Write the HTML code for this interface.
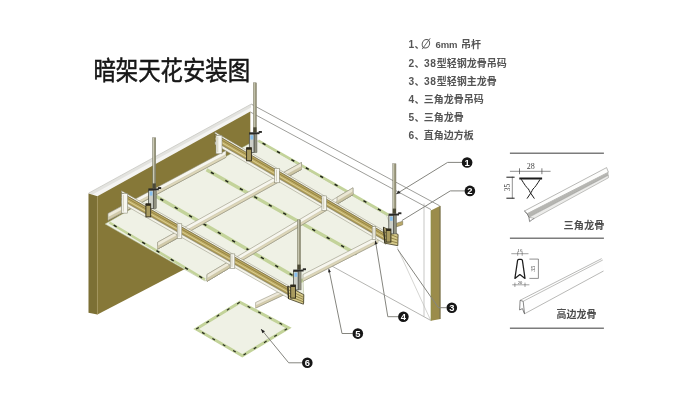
<!DOCTYPE html>
<html lang="zh-CN">
<head>
<meta charset="utf-8">
<title>暗架天花安装图</title>
<style>
html,body{margin:0;padding:0;background:#fff;}
body{width:680px;height:415px;overflow:hidden;font-family:"Liberation Sans","Noto Sans CJK SC",sans-serif;}
svg{display:block;}
svg text{font-family:"Liberation Sans","Noto Sans CJK SC",sans-serif;}
</style>
</head>
<body>
<svg width="680" height="415" viewBox="0 0 680 415">
<rect width="680" height="415" fill="#ffffff"/>
<defs><filter id="soft" x="0" y="0" width="100%" height="100%" filterUnits="userSpaceOnUse"><feGaussianBlur stdDeviation="0.6"/></filter></defs>
<g filter="url(#soft)">
<line x1="251.2" y1="104.1" x2="439.7" y2="205.8" stroke="#8c8c88" stroke-width="0.85" />
<line x1="250.3" y1="112.0" x2="431.0" y2="209.6" stroke="#8c8c88" stroke-width="0.85" />
<line x1="330.0" y1="265.0" x2="430.7" y2="320.4" stroke="#a2a29e" stroke-width="0.8" />
<line x1="424.0" y1="203.5" x2="424.0" y2="316.5" stroke="#b0b0ac" stroke-width="0.7" />
<line x1="397.0" y1="247.0" x2="430.7" y2="320.4" stroke="#b9b9b4" stroke-width="0.6" />
<polygon points="88.5,193.2 251.2,104.1 250.3,111.6 97.4,196.3" fill="#f4f4f2" stroke="none" stroke-width="0.6" />
<polygon points="88.5,193.2 251.2,104.1 250.9,107.4 92.5,194.6" fill="#e3e3df" stroke="none" stroke-width="0.6" />
<line x1="88.5" y1="193.2" x2="251.2" y2="104.1" stroke="#c4c4bf" stroke-width="0.7" />
<polygon points="97.4,196.3 250.3,111.6 250.3,235.0 97.4,314.5" fill="#867839" stroke="none" stroke-width="0.6" />
<polygon points="88.5,193.6 97.4,196.3 97.4,314.5 88.5,312.8" fill="#7c6f34" stroke="none" stroke-width="0.6" />
<line x1="97.4" y1="196.5" x2="97.4" y2="314.5" stroke="#a8975c" stroke-width="0.6" />
<polygon points="430.9,210.4 440.4,205.8 440.4,318.9 430.9,320.7" fill="#9b8c4b" stroke="none" stroke-width="0.6" />
<line x1="440.0" y1="206.0" x2="440.0" y2="319.0" stroke="#6e6a4e" stroke-width="0.9" />
<line x1="431.2" y1="210.4" x2="431.2" y2="320.6" stroke="#8f9048" stroke-width="0.8" />
<polygon points="105.0,224.0 150.0,198.0 256.0,140.0 386.5,215.3 397.0,242.0 376.0,240.5 303.0,278.0 304.0,303.0 245.0,269.0 233.0,266.0 205.0,281.0" fill="#eff1e5" stroke="#a9b48a" stroke-width="0.5" />
<line x1="109.4" y1="222.5" x2="205.0" y2="279.5" stroke="#c3d39a" stroke-width="2.6" />
<line x1="109.4" y1="222.5" x2="205.0" y2="279.5" stroke="#23261c" stroke-width="1.5" stroke-dasharray="3.4 13.2" stroke-dashoffset="-5"/>
<line x1="156.0" y1="196.3" x2="303.0" y2="281.5" stroke="#c3d39a" stroke-width="3.4" />
<line x1="156.0" y1="196.3" x2="303.0" y2="281.5" stroke="#23261c" stroke-width="1.5" stroke-dasharray="3.4 13.2" stroke-dashoffset="-5"/>
<line x1="206.5" y1="169.8" x2="356.5" y2="254.0" stroke="#c3d39a" stroke-width="3.4" />
<line x1="206.5" y1="169.8" x2="356.5" y2="254.0" stroke="#23261c" stroke-width="1.5" stroke-dasharray="3.4 13.2" stroke-dashoffset="-5"/>
<line x1="258.2" y1="140.6" x2="388.5" y2="215.0" stroke="#c3d39a" stroke-width="2.6" />
<line x1="258.2" y1="140.6" x2="388.5" y2="215.0" stroke="#23261c" stroke-width="1.5" stroke-dasharray="3.4 13.2" stroke-dashoffset="-5"/>
<polygon points="108.0,213.5 226.0,150.5 226.0,157.3 108.0,220.3" fill="#f7f6ee" stroke="#8d8c78" stroke-width="0.55" />
<polygon points="108.0,217.4 226.0,154.4 226.0,157.3 108.0,220.3" fill="#ddd6b8" stroke="none" stroke-width="0.6" />
<line x1="108.0" y1="220.3" x2="226.0" y2="157.3" stroke="#8d8c78" stroke-width="0.55" />
<line x1="108.0" y1="217.4" x2="226.0" y2="154.4" stroke="#b9b59a" stroke-width="0.4" />
<polygon points="157.6,242.3 301.5,162.5 301.5,169.3 157.6,249.1" fill="#f7f6ee" stroke="#8d8c78" stroke-width="0.55" />
<polygon points="157.6,246.2 301.5,166.4 301.5,169.3 157.6,249.1" fill="#ddd6b8" stroke="none" stroke-width="0.6" />
<line x1="157.6" y1="249.1" x2="301.5" y2="169.3" stroke="#8d8c78" stroke-width="0.55" />
<line x1="157.6" y1="246.2" x2="301.5" y2="166.4" stroke="#b9b59a" stroke-width="0.4" />
<polygon points="207.0,274.5 353.0,187.8 353.0,194.6 207.0,281.3" fill="#f7f6ee" stroke="#8d8c78" stroke-width="0.55" />
<polygon points="207.0,278.4 353.0,191.7 353.0,194.6 207.0,281.3" fill="#ddd6b8" stroke="none" stroke-width="0.6" />
<line x1="207.0" y1="281.3" x2="353.0" y2="194.6" stroke="#8d8c78" stroke-width="0.55" />
<line x1="207.0" y1="278.4" x2="353.0" y2="191.7" stroke="#b9b59a" stroke-width="0.4" />
<polygon points="303.0,274.5 378.0,236.0 378.0,242.8 303.0,281.3" fill="#f7f6ee" stroke="#8d8c78" stroke-width="0.55" />
<polygon points="303.0,278.4 378.0,239.9 378.0,242.8 303.0,281.3" fill="#ddd6b8" stroke="none" stroke-width="0.6" />
<line x1="303.0" y1="281.3" x2="378.0" y2="242.8" stroke="#8d8c78" stroke-width="0.55" />
<line x1="303.0" y1="278.4" x2="378.0" y2="239.9" stroke="#b9b59a" stroke-width="0.4" />
<polygon points="255.6,302.5 286.0,288.2 286.0,293.8 255.6,308.1" fill="#efeadb" stroke="#8d8c78" stroke-width="0.55" />
<polygon points="255.6,305.7 286.0,291.4 286.0,293.8 255.6,308.1" fill="#d8cfae" stroke="none" stroke-width="0.6" />
<line x1="255.6" y1="308.1" x2="286.0" y2="293.8" stroke="#8d8c78" stroke-width="0.55" />
<line x1="255.6" y1="305.7" x2="286.0" y2="291.4" stroke="#b9b59a" stroke-width="0.4" />
<polygon points="284.5,171.9 301.5,162.5 301.5,169.3 284.5,178.7" fill="#ebe7d4" stroke="#8d8c78" stroke-width="0.55" />
<polygon points="284.5,175.8 301.5,166.4 301.5,169.3 284.5,178.7" fill="#cdc6a4" stroke="none" stroke-width="0.6" />
<line x1="284.5" y1="178.7" x2="301.5" y2="169.3" stroke="#8d8c78" stroke-width="0.55" />
<line x1="284.5" y1="175.8" x2="301.5" y2="166.4" stroke="#b9b59a" stroke-width="0.4" />
<polygon points="337.0,197.3 353.0,187.8 353.0,194.6 337.0,204.1" fill="#ebe7d4" stroke="#8d8c78" stroke-width="0.55" />
<polygon points="337.0,201.2 353.0,191.7 353.0,194.6 337.0,204.1" fill="#cdc6a4" stroke="none" stroke-width="0.6" />
<line x1="337.0" y1="204.1" x2="353.0" y2="194.6" stroke="#8d8c78" stroke-width="0.55" />
<line x1="337.0" y1="201.2" x2="353.0" y2="191.7" stroke="#b9b59a" stroke-width="0.4" />
<polygon points="108.0,213.5 122.0,206.0 122.0,212.8 108.0,220.3" fill="#efebda" stroke="#8d8c78" stroke-width="0.55" />
<polygon points="108.0,217.4 122.0,209.9 122.0,212.8 108.0,220.3" fill="#d3cba9" stroke="none" stroke-width="0.6" />
<line x1="108.0" y1="220.3" x2="122.0" y2="212.8" stroke="#8d8c78" stroke-width="0.55" />
<line x1="108.0" y1="217.4" x2="122.0" y2="209.9" stroke="#b9b59a" stroke-width="0.4" />
<polygon points="157.6,242.3 177.0,231.5 177.0,238.3 157.6,249.1" fill="#efebda" stroke="#8d8c78" stroke-width="0.55" />
<polygon points="157.6,246.2 177.0,235.4 177.0,238.3 157.6,249.1" fill="#d3cba9" stroke="none" stroke-width="0.6" />
<line x1="157.6" y1="249.1" x2="177.0" y2="238.3" stroke="#8d8c78" stroke-width="0.55" />
<line x1="157.6" y1="246.2" x2="177.0" y2="235.4" stroke="#b9b59a" stroke-width="0.4" />
<polygon points="207.0,274.5 229.0,261.4 229.0,268.2 207.0,281.3" fill="#efebda" stroke="#8d8c78" stroke-width="0.55" />
<polygon points="207.0,278.4 229.0,265.3 229.0,268.2 207.0,281.3" fill="#d3cba9" stroke="none" stroke-width="0.6" />
<line x1="207.0" y1="281.3" x2="229.0" y2="268.2" stroke="#8d8c78" stroke-width="0.55" />
<line x1="207.0" y1="278.4" x2="229.0" y2="265.3" stroke="#b9b59a" stroke-width="0.4" />
<polygon points="121.5,190.8 290.0,286.6 290.0,288.6 121.5,192.8" fill="#f6f5ea" stroke="#8d8c78" stroke-width="0.5" />
<polygon points="121.5,192.8 290.0,288.6 290.0,296.0 121.5,200.2" fill="#bdaa62" stroke="#5f5836" stroke-width="0.6" />
<line x1="121.5" y1="195.0" x2="290.0" y2="290.8" stroke="#8f7f3f" stroke-width="0.9" />
<line x1="121.5" y1="197.4" x2="290.0" y2="293.2" stroke="#d9cd92" stroke-width="1.0" />
<line x1="121.5" y1="199.1" x2="290.0" y2="294.9" stroke="#97874a" stroke-width="0.6" />
<polygon points="121.5,200.2 290.0,296.0 290.0,299.0 121.5,203.2" fill="#f4f3e8" stroke="#8d8c78" stroke-width="0.5" />
<polygon points="215.0,132.0 386.0,232.0 386.0,234.0 215.0,134.0" fill="#f6f5ea" stroke="#8d8c78" stroke-width="0.5" />
<polygon points="215.0,134.0 386.0,234.0 386.0,241.4 215.0,141.4" fill="#bdaa62" stroke="#5f5836" stroke-width="0.6" />
<line x1="215.0" y1="136.2" x2="386.0" y2="236.2" stroke="#8f7f3f" stroke-width="0.9" />
<line x1="215.0" y1="138.6" x2="386.0" y2="238.6" stroke="#d9cd92" stroke-width="1.0" />
<line x1="215.0" y1="140.3" x2="386.0" y2="240.3" stroke="#97874a" stroke-width="0.6" />
<polygon points="215.0,141.4 386.0,241.4 386.0,244.4 215.0,144.4" fill="#f4f3e8" stroke="#8d8c78" stroke-width="0.5" />
<rect x="121.6" y="193.6" width="6.0" height="19.5" fill="#f7f7f1" stroke="#85846f" stroke-width="0.55"/>
<rect x="122.8" y="195.1" width="1.1" height="16.5" fill="#d5d3bf"/>
<rect x="177.2" y="223.8" width="4.6" height="14.5" fill="#f7f7f1" stroke="#85846f" stroke-width="0.55"/>
<rect x="178.4" y="225.3" width="1.1" height="11.5" fill="#d5d3bf"/>
<rect x="230.2" y="253.9" width="4.6" height="14.5" fill="#f7f7f1" stroke="#85846f" stroke-width="0.55"/>
<rect x="231.4" y="255.4" width="1.1" height="11.5" fill="#d5d3bf"/>
<rect x="216.0" y="135.3" width="6.0" height="18.5" fill="#f7f7f1" stroke="#85846f" stroke-width="0.55"/>
<rect x="217.2" y="136.8" width="1.1" height="15.5" fill="#d5d3bf"/>
<rect x="274.7" y="168.3" width="4.6" height="14.5" fill="#f7f7f1" stroke="#85846f" stroke-width="0.55"/>
<rect x="275.9" y="169.8" width="1.1" height="11.5" fill="#d5d3bf"/>
<rect x="321.9" y="195.9" width="4.6" height="14.5" fill="#f7f7f1" stroke="#85846f" stroke-width="0.55"/>
<rect x="323.1" y="197.4" width="1.1" height="11.5" fill="#d5d3bf"/>
<rect x="372.2" y="226.5" width="3.6" height="13" fill="#f7f7f1" stroke="#85846f" stroke-width="0.55"/>
<rect x="373.4" y="228.0" width="1.1" height="10" fill="#d5d3bf"/>
<polygon points="287.9,286.1 303.8,294.7 303.4,304.2 288.5,298.7" fill="#d6ca8b" stroke="#3f3a26" stroke-width="0.8" />
<line x1="288.1" y1="289.6" x2="303.7" y2="297.4" stroke="#8b7d42" stroke-width="0.9" />
<line x1="288.2" y1="292.7" x2="303.6" y2="299.6" stroke="#8b7d42" stroke-width="0.9" />
<line x1="288.4" y1="295.7" x2="303.5" y2="301.9" stroke="#8b7d42" stroke-width="0.9" />
<line x1="287.9" y1="286.1" x2="288.5" y2="298.7" stroke="#2f2b1c" stroke-width="1.1" />
<polygon points="383.5,227.2 398.1,234.5 397.8,245.7 384.9,243.2" fill="#d6ca8b" stroke="#3f3a26" stroke-width="0.8" />
<line x1="383.9" y1="231.7" x2="398.0" y2="237.6" stroke="#8b7d42" stroke-width="0.9" />
<line x1="384.2" y1="235.5" x2="397.9" y2="240.3" stroke="#8b7d42" stroke-width="0.9" />
<line x1="384.6" y1="239.4" x2="397.9" y2="243.0" stroke="#8b7d42" stroke-width="0.9" />
<line x1="383.5" y1="227.2" x2="384.9" y2="243.2" stroke="#2f2b1c" stroke-width="1.1" />
<rect x="152.6" y="137.8" width="3.2" height="50.6" fill="#9a987e" stroke="#6d6c58" stroke-width="0.4"/>
<rect x="153.1" y="137.8" width="0.8" height="50.6" fill="#d8d7c4"/>
<rect x="152.6" y="183.4" width="3.2" height="5" fill="#4c4a36"/>
<rect x="153.3" y="190.2" width="3.0" height="18.5" fill="#8f907f" stroke="#55564b" stroke-width="0.4"/>
<rect x="148.6" y="190.2" width="4.7" height="18.5" fill="#cdd0c8" stroke="#3e403a" stroke-width="0.7"/>
<rect x="149.7" y="191.4" width="2.8" height="4.2" fill="#86bfee"/>
<rect x="148.4" y="188.4" width="10.4" height="1.9" fill="#2c2c28"/>
<rect x="158.0" y="187.1" width="3.2" height="1.9" fill="#2c2c28"/>
<rect x="145.9" y="203.9" width="4.8" height="13" fill="#a99b5e" stroke="#2f2b1c" stroke-width="0.9"/>
<rect x="145.9" y="203.6" width="4.8" height="2.2" fill="#2f2b1c"/>
<rect x="253.3" y="82.8" width="3.2" height="49.5" fill="#9a987e" stroke="#6d6c58" stroke-width="0.4"/>
<rect x="253.8" y="82.8" width="0.8" height="49.5" fill="#d8d7c4"/>
<rect x="253.3" y="127.3" width="3.2" height="5" fill="#4c4a36"/>
<rect x="254.0" y="134.1" width="3.0" height="18.5" fill="#8f907f" stroke="#55564b" stroke-width="0.4"/>
<rect x="249.3" y="134.1" width="4.7" height="18.5" fill="#cdd0c8" stroke="#3e403a" stroke-width="0.7"/>
<rect x="250.4" y="135.3" width="2.8" height="4.2" fill="#86bfee"/>
<rect x="249.1" y="132.3" width="10.4" height="1.9" fill="#2c2c28"/>
<rect x="258.7" y="131.0" width="3.2" height="1.9" fill="#2c2c28"/>
<rect x="246.6" y="147.8" width="4.8" height="13" fill="#a99b5e" stroke="#2f2b1c" stroke-width="0.9"/>
<rect x="246.6" y="147.5" width="4.8" height="2.2" fill="#2f2b1c"/>
<rect x="392.8" y="163.8" width="3.2" height="49.8" fill="#9a987e" stroke="#6d6c58" stroke-width="0.4"/>
<rect x="393.3" y="163.8" width="0.8" height="49.8" fill="#d8d7c4"/>
<rect x="392.8" y="208.6" width="3.2" height="5" fill="#4c4a36"/>
<polygon points="396.0,223.4 402.7,221.2 402.7,224.8 396.0,227.0" fill="#b9a86a" stroke="#6b6445" stroke-width="0.5" />
<rect x="393.5" y="215.4" width="3.0" height="18.5" fill="#8f907f" stroke="#55564b" stroke-width="0.4"/>
<rect x="388.8" y="215.4" width="4.7" height="18.5" fill="#cdd0c8" stroke="#3e403a" stroke-width="0.7"/>
<rect x="389.9" y="216.6" width="2.8" height="4.2" fill="#86bfee"/>
<rect x="388.6" y="213.6" width="10.4" height="1.9" fill="#2c2c28"/>
<rect x="398.2" y="212.3" width="3.2" height="1.9" fill="#2c2c28"/>
<rect x="386.1" y="229.1" width="4.8" height="13" fill="#a99b5e" stroke="#2f2b1c" stroke-width="0.9"/>
<rect x="386.1" y="228.8" width="4.8" height="2.2" fill="#2f2b1c"/>
<rect x="297.4" y="219.9" width="3.2" height="49.7" fill="#9a987e" stroke="#6d6c58" stroke-width="0.4"/>
<rect x="297.9" y="219.9" width="0.8" height="49.7" fill="#d8d7c4"/>
<rect x="297.4" y="264.6" width="3.2" height="5" fill="#4c4a36"/>
<rect x="298.1" y="271.4" width="3.0" height="18.5" fill="#8f907f" stroke="#55564b" stroke-width="0.4"/>
<rect x="293.4" y="271.4" width="4.7" height="18.5" fill="#cdd0c8" stroke="#3e403a" stroke-width="0.7"/>
<rect x="294.5" y="272.6" width="2.8" height="4.2" fill="#86bfee"/>
<rect x="293.2" y="269.6" width="10.4" height="1.9" fill="#2c2c28"/>
<rect x="302.8" y="268.3" width="3.2" height="1.9" fill="#2c2c28"/>
<rect x="290.7" y="285.1" width="4.8" height="13" fill="#a99b5e" stroke="#2f2b1c" stroke-width="0.9"/>
<rect x="290.7" y="284.8" width="4.8" height="2.2" fill="#2f2b1c"/>
<polygon points="196.2,329.0 239.9,302.2 288.6,327.8 242.3,355.8" fill="#eff1e5" stroke="none" stroke-width="0.6" />
<polygon points="196.2,329.0 239.9,302.2 288.6,327.8 242.3,355.8" fill="none" stroke="#c3d39a" stroke-width="3"/>
<polygon points="196.2,329.0 239.9,302.2 288.6,327.8 242.3,355.8" fill="none" stroke="#2a2e22" stroke-width="1.2" stroke-dasharray="3 9"/>
<polyline points="462.0,162.4 447.6,162.4 396.1,194.1" fill="none" stroke="#85857f" stroke-width="1.0" />
<polygon points="396.1,194.1 398.8,190.5 400.6,193.3" fill="#222" stroke="none" stroke-width="0.6" />
<polyline points="465.0,190.9 450.3,190.9 401.8,220.6" fill="none" stroke="#85857f" stroke-width="1.0" />
<polyline points="446.5,307.7 438.4,307.7 397.7,249.4" fill="none" stroke="#85857f" stroke-width="1.0" />
<polyline points="398.0,316.7 387.8,316.7 375.4,240.6" fill="none" stroke="#85857f" stroke-width="1.0" />
<polygon points="375.4,240.6 377.4,243.9 374.6,244.4" fill="#222" stroke="none" stroke-width="0.6" />
<polyline points="352.5,333.5 342.0,333.5 328.8,268.8" fill="none" stroke="#85857f" stroke-width="1.0" />
<polygon points="328.8,268.8 330.9,272.0 328.1,272.6" fill="#222" stroke="none" stroke-width="0.6" />
<polyline points="302.0,362.8 288.7,362.8 261.0,329.0" fill="none" stroke="#85857f" stroke-width="1.0" />
<polygon points="261.0,329.0 265.0,331.2 262.4,333.3" fill="#222" stroke="none" stroke-width="0.6" />
<circle cx="467.1" cy="162.5" r="5.3" fill="#141414"/>
<text x="467.1" y="165.8" font-size="9.4" font-weight="700" text-anchor="middle" fill="#fff">1</text>
<circle cx="469.9" cy="190.9" r="5.3" fill="#141414"/>
<text x="469.9" y="194.20000000000002" font-size="9.4" font-weight="700" text-anchor="middle" fill="#fff">2</text>
<circle cx="451.8" cy="307.7" r="5.3" fill="#141414"/>
<text x="451.8" y="311.0" font-size="9.4" font-weight="700" text-anchor="middle" fill="#fff">3</text>
<circle cx="403.4" cy="316.7" r="5.3" fill="#141414"/>
<text x="403.4" y="320.0" font-size="9.4" font-weight="700" text-anchor="middle" fill="#fff">4</text>
<circle cx="357.8" cy="333.6" r="5.3" fill="#141414"/>
<text x="357.8" y="336.90000000000003" font-size="9.4" font-weight="700" text-anchor="middle" fill="#fff">5</text>
<circle cx="307.3" cy="362.8" r="5.3" fill="#141414"/>
<text x="307.3" y="366.1" font-size="9.4" font-weight="700" text-anchor="middle" fill="#fff">6</text>
<line x1="509.9" y1="153.2" x2="603.9" y2="153.2" stroke="#7c7c7c" stroke-width="1.5" />
<line x1="509.9" y1="238.3" x2="603.9" y2="238.3" stroke="#7c7c7c" stroke-width="1.5" />
<line x1="509.9" y1="328.3" x2="603.9" y2="328.3" stroke="#7c7c7c" stroke-width="1.5" />
<line x1="519.3" y1="178.5" x2="542.1" y2="178.5" stroke="#1c1c1c" stroke-width="2.0" />
<path d="M521.3 179.3 C524.5 184.5 526.3 187.2 528.4 189.0 C529.2 190.0 529.2 190.8 530.2 192.4 L534.4 198.6" fill="none" stroke="#1c1c1c" stroke-width="1.0"/>
<path d="M540.1 179.3 C536.9 184.5 535.1 187.2 533.0 189.0 C532.2 190.0 532.2 190.8 531.2 192.4 L527.0 198.6" fill="none" stroke="#1c1c1c" stroke-width="1.0"/>
<line x1="509.9" y1="171.3" x2="550.6" y2="171.3" stroke="#444444" stroke-width="0.6" />
<line x1="519.5" y1="168.3" x2="519.5" y2="174.2" stroke="#444444" stroke-width="0.7" />
<line x1="541.9" y1="168.3" x2="541.9" y2="174.2" stroke="#444444" stroke-width="0.7" />
<text x="530.7" y="169.3" font-size="8" text-anchor="middle" fill="#444444" style="font-family:&quot;Liberation Serif&quot;,serif">28</text>
<line x1="512.3" y1="176.7" x2="512.3" y2="198.4" stroke="#444444" stroke-width="0.6" />
<line x1="506.4" y1="177.2" x2="514.6" y2="177.2" stroke="#1c1c1c" stroke-width="1.0" />
<line x1="506.4" y1="198.2" x2="514.6" y2="198.2" stroke="#1c1c1c" stroke-width="1.0" />
<text transform="translate(510.4,187.6) rotate(-90)" font-size="7.4" text-anchor="middle" fill="#444444" style="font-family:&quot;Liberation Serif&quot;,serif">35</text>
<polygon points="524.4,211.0 606.6,167.6 608.4,172.2 527.1,213.7" fill="#fdfdfc" stroke="#8a8a86" stroke-width="0.6" />
<polygon points="527.1,213.7 608.4,172.2 608.4,175.2 528.9,217.3" fill="#b5b5b1" stroke="none" stroke-width="0.6" />
<polygon points="528.9,217.3 608.4,175.2 608.4,177.8 534.3,218.4" fill="#ececea" stroke="#8a8a86" stroke-width="0.5" />
<polyline points="524.4,211.0 527.1,213.7 528.9,217.3 529.6,221.6 532.2,219.6 534.3,218.4" fill="none" stroke="#555" stroke-width="0.7" />
<path d="M514.9 278.4 L517.6 260.4 Q517.8 259.4 518.8 259.4 L521.2 259.4 Q522.2 259.4 522.4 260.4 L525.0 278.4 L519.9 274.6 Z" fill="none" stroke="#1c1c1c" stroke-width="1.25" stroke-linejoin="round"/>
<line x1="511.3" y1="253.7" x2="528.5" y2="253.7" stroke="#444444" stroke-width="0.5" />
<line x1="517.7" y1="251.6" x2="517.7" y2="255.8" stroke="#444444" stroke-width="0.5" />
<line x1="522.2" y1="251.6" x2="522.2" y2="255.8" stroke="#444444" stroke-width="0.5" />
<text x="520" y="252.3" font-size="4.8" text-anchor="middle" fill="#444444" style="font-family:&quot;Liberation Serif&quot;,serif">16</text>
<polyline points="529.4,259.1 538.4,259.1 538.4,278.4 529.4,278.4" fill="none" stroke="#444444" stroke-width="0.6" />
<text transform="translate(534.6,268.8) rotate(-90)" font-size="6" text-anchor="middle" fill="#444444" style="font-family:&quot;Liberation Serif&quot;,serif">35</text>
<line x1="512.2" y1="284.8" x2="529.4" y2="284.8" stroke="#444444" stroke-width="0.5" />
<line x1="514.9" y1="282.6" x2="514.9" y2="287.0" stroke="#444444" stroke-width="0.5" />
<line x1="525.0" y1="282.6" x2="525.0" y2="287.0" stroke="#444444" stroke-width="0.5" />
<text x="520" y="283.9" font-size="4.6" text-anchor="middle" fill="#444444" style="font-family:&quot;Liberation Serif&quot;,serif">20</text>
<polygon points="520.1,300.3 601.7,258.6 603.5,271.0 524.5,313.8 519.6,310.0" fill="#fefefe" stroke="none" stroke-width="0.6" />
<line x1="520.1" y1="300.3" x2="601.7" y2="258.6" stroke="#8a8a86" stroke-width="0.6" />
<line x1="523.2" y1="301.3" x2="602.8" y2="260.0" stroke="#8a8a86" stroke-width="0.55" />
<line x1="524.5" y1="313.8" x2="603.5" y2="271.0" stroke="#8a8a86" stroke-width="0.6" />
<polyline points="520.1,300.3 519.6,310.0 522.4,308.6 524.5,313.8 523.2,301.3 520.1,300.3" fill="none" stroke="#555" stroke-width="0.7" />
<text transform="translate(0,80.2) scale(1,1.16)" x="93.4" y="0" font-size="22.4" fill="#141414" stroke="#141414" stroke-width="0.45">暗架天花安装图</text>
<text x="408.4" y="47.5" font-size="10.2" font-weight="700" fill="#555555" >1</text>
<text x="414.6" y="47.5" font-size="10.0" font-weight="700" fill="#555555">、</text>
<ellipse cx="425.9" cy="43.8" rx="3.7" ry="4.3" fill="none" stroke="#555555" stroke-width="1.0" transform="skewX(-8) translate(6.15,0)"/>
<line x1="422.2" y1="49.1" x2="430.2" y2="38.3" stroke="#555555" stroke-width="0.9" />
<text x="435.4" y="47.5" font-size="9.5" font-weight="700" fill="#555555" letter-spacing="0">6mm</text>
<text x="460.9" y="47.5" font-size="10.0" font-weight="700" fill="#555555">吊杆</text>
<text x="408.4" y="66.6" font-size="10.2" font-weight="700" fill="#555555" >2</text>
<text x="414.6" y="66.6" font-size="10.0" font-weight="700" fill="#555555">、</text>
<text x="424.0" y="66.6" font-size="10.2" font-weight="700" fill="#555555" letter-spacing="0.5">38</text>
<text x="436.8" y="66.6" font-size="10.0" font-weight="700" fill="#555555">型轻钢龙骨吊码</text>
<text x="408.4" y="84.8" font-size="10.2" font-weight="700" fill="#555555" >3</text>
<text x="414.6" y="84.8" font-size="10.0" font-weight="700" fill="#555555">、</text>
<text x="424.0" y="84.8" font-size="10.2" font-weight="700" fill="#555555" letter-spacing="0.5">38</text>
<text x="436.8" y="84.8" font-size="10.0" font-weight="700" fill="#555555">型轻钢主龙骨</text>
<text x="408.4" y="103.0" font-size="10.2" font-weight="700" fill="#555555" >4</text>
<text x="414.6" y="103.0" font-size="10.0" font-weight="700" fill="#555555">、</text>
<text x="423.8" y="103.0" font-size="10.0" font-weight="700" fill="#555555">三角龙骨吊码</text>
<text x="408.4" y="121.1" font-size="10.2" font-weight="700" fill="#555555" >5</text>
<text x="414.6" y="121.1" font-size="10.0" font-weight="700" fill="#555555">、</text>
<text x="423.8" y="121.1" font-size="10.0" font-weight="700" fill="#555555">三角龙骨</text>
<text x="408.4" y="139.3" font-size="10.2" font-weight="700" fill="#555555" >6</text>
<text x="414.6" y="139.3" font-size="10.0" font-weight="700" fill="#555555">、</text>
<text x="423.8" y="139.3" font-size="10.0" font-weight="700" fill="#555555">直角边方板</text>
<text x="563.6" y="228.9" font-size="10.2" font-weight="700" fill="#4e4e4e">三角龙骨</text>
<text x="556.5" y="318.3" font-size="10.0" font-weight="700" fill="#4e4e4e">高边龙骨</text>
</g>
</svg>
</body>
</html>
